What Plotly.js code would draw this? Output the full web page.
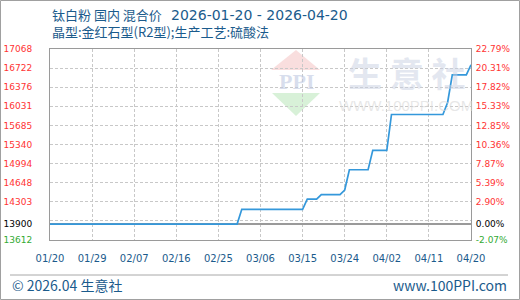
<!DOCTYPE html>
<html>
<head>
<meta charset="utf-8">
<script src="https://cdn.plot.ly/plotly-3.0.1.min.js"></script>
<style>
html,body{margin:0;padding:0;background:#fff;}
#chart{width:520px;height:300px;}
</style>
</head>
<body>
<div id="chart"></div>
<script>
// ---- data ----
const dates = ['2026-01-20','2026-03-01','2026-03-02','2026-03-15','2026-03-16','2026-03-18','2026-03-19','2026-03-23','2026-03-24','2026-03-25','2026-03-29','2026-03-30','2026-04-02','2026-04-03','2026-04-14','2026-04-15','2026-04-16','2026-04-19','2026-04-20'];
const prices = [13900,13900,14167,14167,14350,14350,14433,14433,14517,14883,14883,15233,15233,15883,15883,16100,16600,16600,16783];

const xTickVals = ['2026-01-20','2026-01-29','2026-02-07','2026-02-16','2026-02-25','2026-03-06','2026-03-15','2026-03-24','2026-04-02','2026-04-11','2026-04-20'];
const xTickText = ['01/20','01/29','02/07','02/16','02/25','03/06','03/15','03/24','04/02','04/11','04/20'];

const leftTickVals = [13612,13900,14303,14648,14994,15340,15685,16031,16376,16722,17068];
const leftTickText = ['13612','13900','14303','14648','14994','15340','15685','16031','16376','16722','17068'];
const rightTickVals = [-2.07,0,2.90,5.39,7.87,10.36,12.85,15.33,17.82,20.31,22.79];
const rightTickText = ['-2.07%','0.00%','2.90%','5.39%','7.87%','10.36%','12.85%','15.33%','17.82%','20.31%','22.79%'];
const gridVals = [13612,13957.6,14303.2,14648.8,14994.4,15340,15685.6,16031.2,16376.8,16722.4,17068];

const titleName = '钛白粉 国内 混合价';
const titleDates = '2026-01-20 - 2026-04-20';
const titleLine2 = '晶型:金红石型(R2型);生产工艺:硫酸法';
const footerLeft = '© 2026.04 生意社';
const footerRight = 'www.100PPI.com';

// ---- styling helpers ----
const RED = '#ff3333', GREEN = '#33aa33', BLACK = '#000000', BLUE_TXT = '#1b5b8c';
function colorFor(i){ return i === 0 ? GREEN : (i === 1 ? BLACK : RED); }
const leftLabels = leftTickText.map((t,i)=>'<span style="color:'+colorFor(i)+'">'+t+'</span>');
const rightLabels = rightTickText.map((t,i)=>'<span style="color:'+colorFor(i)+'">'+t+'</span>');

// plot area in pixels
const L = 50, R = 49, T = 49, B = 60, W = 520, H = 300;
const PW = W - L - R, PH = H - T - B;
const px = x => (x - L) / PW;
const py = y => (H - B - y) / PH;

const priceTrace = {
  x: dates, y: prices, type: 'scatter', mode: 'lines',
  line: {color: '#3498db', width: 1.7},
  yaxis: 'y', hoverinfo: 'skip'
};
// empty carriers so that the right-hand axis and the grid axis are drawn
const pctAxisCarrier = {x: [], y: [], type: 'scatter', mode: 'lines', yaxis: 'y2', hoverinfo: 'skip'};
const gridAxisCarrier = {x: [], y: [], type: 'scatter', mode: 'lines', yaxis: 'y3', hoverinfo: 'skip'};

const tri = (pts) => 'M ' + pts.map(p => px(p[0]) + ' ' + py(p[1])).join(' L ') + ' Z';

const txt = (x, y, text, font, xa, ya) => ({
  xref: 'paper', yref: 'paper', x: px(x), y: py(y), text: text, showarrow: false,
  xanchor: xa || 'center', yanchor: ya || 'middle', font: font
});

const TITLE_FONT = {family: 'Noto Sans CJK SC, sans-serif', size: 13, color: BLUE_TXT};
const TITLE_DATE_FONT = {family: 'DejaVu Sans, sans-serif', size: 14, color: BLUE_TXT};

const layout = {
  width: W, height: H,
  margin: {l: L, r: R, t: T, b: B, pad: 0},
  paper_bgcolor: '#ffffff', plot_bgcolor: '#ffffff',
  showlegend: false,
  xaxis: {
    type: 'date', range: ['2026-01-20', '2026-04-20'],
    tickmode: 'array', tickvals: xTickVals, ticktext: xTickText,
    tickfont: {family: 'DejaVu Sans, sans-serif', size: 10, color: BLUE_TXT},
    ticks: 'outside', ticklen: 9, tickcolor: 'rgba(0,0,0,0)',
    showgrid: true, gridcolor: '#c8c8c8', griddash: '3px,2px', gridwidth: 1,
    showline: true, linecolor: '#9a9a9a', linewidth: 1, mirror: true,
    zeroline: false, fixedrange: true
  },
  yaxis: {
    range: [13612, 17068],
    tickmode: 'array', tickvals: leftTickVals, ticktext: leftLabels,
    tickfont: {family: 'DejaVu Sans, sans-serif', size: 9, color: RED},
    ticks: 'outside', ticklen: 15, tickcolor: 'rgba(0,0,0,0)',
    showgrid: false, zeroline: false,
    showline: true, linecolor: '#9a9a9a', linewidth: 1, mirror: true
  },
  yaxis2: {
    overlaying: 'y', side: 'right', range: [-2.07, 22.79],
    tickmode: 'array', tickvals: rightTickVals, ticktext: rightLabels,
    tickfont: {family: 'DejaVu Sans, sans-serif', size: 9, color: RED},
    ticks: 'outside', ticklen: 2, tickcolor: 'rgba(0,0,0,0)', showgrid: false,
    zeroline: true, zerolinecolor: '#9a9a9a', zerolinewidth: 1.5,
    showline: false
  },
  yaxis3: {
    overlaying: 'y', side: 'left', range: [13612, 17068],
    tickmode: 'array', tickvals: gridVals, showticklabels: false, ticks: '',
    showgrid: true, gridcolor: '#c8c8c8', griddash: '3px,2px', gridwidth: 1,
    zeroline: false, showline: false
  },
  shapes: [
    // watermark logo
    {type: 'path', xref: 'paper', yref: 'paper', layer: 'below', line: {width: 0},
     fillcolor: 'rgba(245,200,200,0.6)', path: tri([[296,50],[271,70],[320,70]])},
    {type: 'path', xref: 'paper', yref: 'paper', layer: 'below', line: {width: 0},
     fillcolor: 'rgba(200,235,200,0.7)', path: tri([[272,93],[320,93],[296,116]])},
    // footer separator
    {type: 'line', xref: 'paper', yref: 'paper', x0: px(10), x1: px(508), y0: py(275), y1: py(275),
     line: {color: '#a8a8a8', width: 1}},
    // outer frame
    {type: 'rect', xref: 'paper', yref: 'paper', x0: px(0.5), x1: px(519.5), y0: py(299.5), y1: py(0.5),
     line: {color: '#a0a0a0', width: 1}}
  ],
  annotations: [
    txt(50, 15, titleName, TITLE_FONT, 'left'),
    txt(169, 15, titleDates, TITLE_DATE_FONT, 'left'),
    txt(50, 32, titleLine2, TITLE_FONT, 'left'),
    txt(296, 81, 'PPI', {family: 'Liberation Serif, serif', size: 22, color: 'rgba(190,200,225,0.6)', weight: 700}),
    txt(406, 72, '生 意 社', {family: 'Noto Sans CJK SC, sans-serif', size: 34, color: 'rgba(200,208,226,0.5)', weight: 700}),
    txt(406, 105, 'WWW.100PPI.COM', {family: 'Liberation Sans, sans-serif', size: 15, color: 'rgba(215,215,215,0.6)'}),
    txt(10, 285, footerLeft, {family: 'Noto Sans CJK SC, sans-serif', size: 14, color: BLUE_TXT}, 'left'),
    txt(509, 285, footerRight, {family: 'Noto Sans CJK SC, sans-serif', size: 14, color: BLUE_TXT}, 'right')
  ]
};

Plotly.newPlot('chart', [priceTrace, pctAxisCarrier, gridAxisCarrier], layout, {staticPlot: true, displayModeBar: false});
</script>
</body>
</html>
